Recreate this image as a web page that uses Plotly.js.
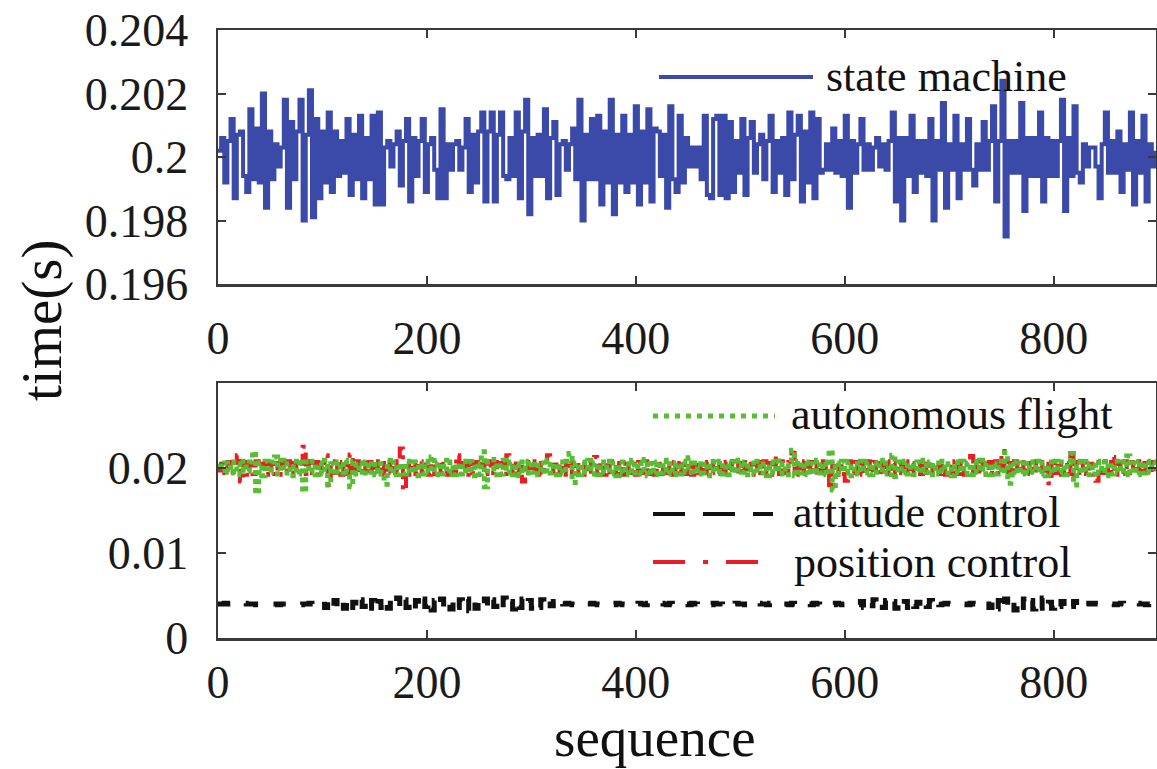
<!DOCTYPE html>
<html>
<head>
<meta charset="utf-8">
<script src="https://cdn.plot.ly/plotly-3.0.1.min.js"></script>
<style>html,body{margin:0;padding:0;background:#fff;}#chart{width:1157px;height:769px;}</style>
</head>
<body>
<div id="chart"></div>
<script>
// ---- data (one value every 3 sequence steps) ----
const SEQ_STEP = 3;
const stateMachine = [
0.2002,0.2006,0.1992,0.2005,0.2012,0.1987,0.2007,0.2008,0.1994,0.1989,
0.2015,0.1993,0.2009,0.1992,0.202,0.1984,0.2008,0.1993,0.2004,0.1997,
0.2003,0.2018,0.1984,0.2011,0.1993,0.2008,0.2018,0.198,0.2007,0.2021,
0.1981,0.2012,0.1987,0.2008,0.1992,0.2014,0.1989,0.2008,0.1994,0.2005,
0.1995,0.2012,0.1988,0.2007,0.1993,0.2013,0.1987,0.2006,0.1993,0.2013,
0.1985,0.2014,0.1985,0.2003,0.2005,0.1997,0.2004,0.2008,0.1991,0.2005,
0.2012,0.1986,0.2006,0.1994,0.2005,0.2012,0.1989,0.2004,0.2006,0.1996,
0.1987,0.2015,0.1987,0.2004,0.1996,0.2004,0.2005,0.1996,0.2003,0.2012,
0.1989,0.2007,0.1992,0.2008,0.2014,0.1986,0.2008,0.2014,0.1986,0.2007,
0.2014,0.1994,0.1993,0.2006,0.1994,0.2014,0.1987,0.2008,0.2018,0.1982,
0.2006,0.1994,0.2007,0.1994,0.2015,0.1987,0.2006,0.2011,0.1988,0.2004,
0.2005,0.1996,0.2004,0.2009,0.1993,0.2018,0.198,0.2007,0.1993,0.2012,
0.1993,0.2013,0.1985,0.2008,0.1992,0.2018,0.1982,0.2007,0.1992,0.2013,
0.1989,0.2007,0.1992,0.2016,0.1985,0.2008,0.1992,0.2015,0.1986,0.2009,
0.2008,0.1994,0.2007,0.1984,0.2016,0.1993,0.1989,0.2013,0.1992,0.2006,
0.1997,0.2003,0.1997,0.2003,0.1993,0.2013,0.1988,0.1987,0.2012,0.2013,
0.1988,0.2013,0.1987,0.2011,0.1989,0.2005,0.1995,0.2012,0.1988,0.2006,
0.2011,0.1995,0.2004,0.2007,0.1993,0.2005,0.2013,0.1989,0.2005,0.1995,
0.2006,0.1988,0.2014,0.1993,0.2007,0.2013,0.1986,0.2008,0.1992,0.2014,
0.1987,0.2012,0.1995,0.1996,0.2004,0.1996,0.2009,0.1995,0.2005,0.1994,
0.2013,0.1984,0.2005,0.1995,0.2004,0.2012,0.1996,0.2004,0.1996,0.2003,
0.2006,0.1997,0.2004,0.1996,0.2005,0.2014,0.1986,0.2006,0.198,0.2006,
0.1994,0.2013,0.1989,0.2005,0.1995,0.2005,0.1994,0.2012,0.198,0.2005,
0.1996,0.2017,0.1984,0.2004,0.1996,0.2013,0.1987,0.2004,0.1996,0.2012,
0.1996,0.1991,0.2004,0.1996,0.2011,0.1996,0.2005,0.2016,0.1986,0.2005,
0.2024,0.1975,0.2005,0.1995,0.2005,0.1995,0.2017,0.1983,0.2006,0.1994,
0.2006,0.1994,0.2014,0.1986,0.2006,0.1994,0.2005,0.1994,0.2005,0.2018,
0.1983,0.2006,0.1994,0.2016,0.1995,0.1992,0.2004,0.1997,0.2003,0.2003,
0.1997,0.1987,0.2004,0.2014,0.1995,0.2005,0.1995,0.2008,0.1989,0.2004,
0.1996,0.2014,0.1985,0.2005,0.1995,0.2013,0.1986,0.2004,0.1997,0.2002
];
const autonomousFlight = [
0.0202,0.0197,0.0206,0.0195,0.0207,0.0194,0.0205,0.0192,0.0208,0.0196,0.0207,0.0219,0.017,0.0206,0.0191,0.0208,0.0195,0.0207,0.0213,0.0193,
0.0209,0.0194,0.0205,0.0191,0.0208,0.0193,0.021,0.0172,0.0207,0.0195,0.0208,0.0192,0.0206,0.0193,0.0209,0.018,0.0205,0.0192,0.0207,0.0194,
0.0209,0.0195,0.0178,0.0208,0.0193,0.0206,0.0191,0.0207,0.0195,0.0208,0.0192,0.0205,0.0193,0.0181,0.0209,0.0194,0.0207,0.0192,0.0205,0.0193,
0.0208,0.0194,0.0207,0.0191,0.0205,0.0193,0.0208,0.0195,0.0213,0.0192,0.0206,0.0193,0.0209,0.0194,0.0207,0.0192,0.0205,0.0193,0.0208,0.0194,
0.0207,0.0191,0.0205,0.0193,0.0219,0.0178,0.0208,0.021,0.0192,0.0206,0.0193,0.0209,0.0194,0.0207,0.0192,0.0205,0.0191,0.0207,0.0194,0.0208,
0.0195,0.0207,0.0192,0.0206,0.0193,0.0209,0.0194,0.0205,0.0192,0.0207,0.0194,0.0208,0.0217,0.0183,0.0206,0.0192,0.0207,0.0195,0.0209,0.0193,
0.0206,0.0192,0.0207,0.0195,0.0208,0.0193,0.0206,0.0191,0.0207,0.0194,0.0205,0.0192,0.0209,0.0194,0.0207,0.0193,0.021,0.0191,0.0205,0.0192,
0.0207,0.0194,0.0209,0.0193,0.0205,0.0192,0.0206,0.0193,0.0208,0.0195,0.0212,0.0192,0.0206,0.0193,0.0208,0.0194,0.0205,0.0191,0.0207,0.0194,
0.0208,0.0193,0.0205,0.0192,0.0207,0.0194,0.0209,0.0195,0.0207,0.0192,0.0206,0.0193,0.0208,0.0194,0.0205,0.0191,0.0207,0.0194,0.0208,0.0193,
0.0205,0.0192,0.0207,0.0221,0.0191,0.0208,0.0194,0.0207,0.0192,0.0205,0.0193,0.0209,0.0194,0.0207,0.0192,0.0221,0.0174,0.0206,0.0193,0.0208,
0.0194,0.0207,0.0191,0.0205,0.0193,0.0208,0.0194,0.0207,0.0192,0.0206,0.0195,0.0209,0.0193,0.0206,0.0192,0.0215,0.019,0.0207,0.0194,0.0208,
0.0193,0.0205,0.0192,0.0207,0.0194,0.0209,0.0195,0.0207,0.0192,0.0206,0.0193,0.0208,0.0194,0.0205,0.0191,0.0207,0.0194,0.0208,0.0193,0.0206,
0.0192,0.0207,0.0195,0.0209,0.0193,0.0206,0.0192,0.0205,0.0193,0.0208,0.0194,0.0218,0.0182,0.0207,0.0192,0.0206,0.0193,0.0209,0.0194,0.0207,
0.0195,0.0208,0.0193,0.0206,0.0191,0.0207,0.0194,0.0208,0.0195,0.0207,0.0192,0.0206,0.0217,0.018,0.0208,0.0194,0.0207,0.0192,0.0205,0.0193,
0.0208,0.0194,0.0207,0.0191,0.0206,0.0193,0.0208,0.0195,0.0207,0.0192,0.0214,0.0193,0.0206,0.0192,0.0207,0.0194,0.0208,0.0195,0.0207,0.0197
];
const positionControl = [
0.0197,0.0205,0.0194,0.0207,0.0195,0.0206,0.0215,0.0184,0.0207,0.0192,0.0206,0.0193,0.0208,0.0194,0.0205,0.0192,0.0207,0.0193,0.0206,0.0192,
0.0207,0.0195,0.0208,0.0193,0.0206,0.0192,0.0205,0.0225,0.0193,0.0208,0.0194,0.0207,0.0192,0.0206,0.0215,0.018,0.0208,0.0194,0.0207,0.0192,
0.0205,0.0193,0.0216,0.0194,0.0208,0.0193,0.0206,0.0192,0.0207,0.0195,0.0208,0.0193,0.0206,0.0192,0.0207,0.0194,0.0208,0.0195,0.0223,0.0174,
0.0207,0.0192,0.0206,0.0193,0.0208,0.0195,0.0207,0.0192,0.0206,0.0193,0.0208,0.0194,0.0205,0.0192,0.0207,0.0194,0.0215,0.0193,0.0206,0.0192,
0.0208,0.0194,0.0207,0.0192,0.0205,0.0193,0.0208,0.0194,0.0207,0.0192,0.0206,0.0193,0.0215,0.0194,0.0208,0.0193,0.0205,0.0184,0.0207,0.0194,
0.0208,0.0193,0.0206,0.0192,0.0207,0.0215,0.0194,0.0208,0.0193,0.0205,0.0192,0.0207,0.0194,0.0208,0.0193,0.0206,0.0192,0.0205,0.0193,0.0208,
0.0213,0.0193,0.0206,0.0192,0.0207,0.0195,0.0208,0.0193,0.0206,0.0192,0.0207,0.0194,0.0205,0.0192,0.0207,0.0194,0.0208,0.0193,0.0206,0.0192,
0.0205,0.0193,0.0208,0.0194,0.0207,0.0192,0.0206,0.0195,0.0208,0.0193,0.0206,0.0192,0.0207,0.0194,0.0205,0.0192,0.0207,0.0194,0.0208,0.0193,
0.0206,0.0192,0.0207,0.0195,0.0208,0.0193,0.0206,0.0192,0.0207,0.0194,0.0205,0.0192,0.0207,0.0194,0.0208,0.0193,0.0206,0.0192,0.0214,0.0193,
0.0208,0.0194,0.0207,0.0218,0.0192,0.0206,0.0193,0.0208,0.0195,0.0207,0.0192,0.0206,0.0193,0.0208,0.0194,0.0176,0.0207,0.0192,0.0206,0.0193,
0.0185,0.0208,0.0194,0.0207,0.0192,0.0205,0.0193,0.0208,0.0194,0.0207,0.0192,0.0206,0.0195,0.0208,0.0193,0.0206,0.0192,0.0207,0.0194,0.0208,
0.0193,0.0206,0.0192,0.0205,0.0193,0.0208,0.0194,0.0207,0.0192,0.0206,0.0193,0.0205,0.0192,0.0207,0.0194,0.0208,0.0193,0.0206,0.0192,0.0207,
0.0214,0.0194,0.0208,0.0193,0.0205,0.0192,0.0207,0.0194,0.0208,0.0193,0.022,0.0192,0.0206,0.0193,0.0208,0.0195,0.0207,0.0192,0.0206,0.0193,
0.0208,0.0194,0.0207,0.0192,0.0205,0.0182,0.0208,0.0194,0.0207,0.0192,0.0206,0.0193,0.0219,0.0192,0.0207,0.0194,0.0208,0.0193,0.0205,0.0192,
0.0185,0.0207,0.0194,0.0208,0.0193,0.0213,0.0192,0.0206,0.0193,0.0208,0.0194,0.0207,0.0195,0.0208,0.0193,0.0206,0.0192,0.0207,0.0194,0.0205
];
const attitudeControl = [
0.004,0.004,0.0041,0.004,0.004,0.0039,0.004,0.004,0.0041,0.004,0.004,0.004,0.0039,0.004,0.004,0.0041,0.004,0.004,0.004,0.0039,
0.004,0.004,0.0041,0.004,0.004,0.004,0.0039,0.004,0.004,0.0041,0.004,0.004,0.004,
0.0045,0.0036,0.0046,0.0037,0.0044,0.0034,0.0043,0.0035,0.0047,0.0036,
0.0042,0.0034,0.0045,0.0037,0.0046,0.0035,0.0044,0.0033,0.0043,0.0036,
0.0046,0.0035,0.0044,0.0037,0.0047,0.0034,0.0045,0.0036,0.0043,0.0034,
0.0044,0.0035,0.0046,0.0037,0.0045,0.0033,0.0044,0.0036,0.0046,0.0035,
0.0043,0.0034,0.0047,0.0036,0.0045,0.0037,0.0046,0.0032,0.0044,0.0035,
0.0043,0.0036,0.0046,0.0034,0.0045,0.0037,0.0044,0.0035,0.0047,0.0036,
0.0043,0.0034,0.0045,0.0036,0.0046,0.0037,0.0044,0.0035,0.0043,0.0036,
0.0045,0.0037,0.0044,0.0038,0.0043,0.0037,0.0042,
0.004,0.0041,0.004,0.0039,0.004,0.004,0.0041,0.0039,0.004,0.0041,0.004,0.0039,0.004,0.0041,0.004,0.004,0.0039,0.0041,0.004,0.0039,
0.0041,0.004,0.0039,0.004,0.0041,0.004,0.0039,0.0041,0.004,0.004,0.0039,0.0041,0.004,0.0039,0.0041,0.004,0.004,0.0039,0.0041,0.004,
0.0039,0.0041,0.004,0.0039,0.004,0.0041,0.004,0.0039,0.0041,0.004,0.004,0.0039,0.0041,0.004,0.0039,0.0041,0.004,0.004,0.0039,0.0041,
0.004,0.0039,0.0041,0.004,0.004,0.0039,0.0041,0.004,0.0039,0.0041,0.004,0.004,0.0039,0.0041,0.004,0.0039,0.0041,0.004,0.004,0.0039,
0.0041,0.004,0.0039,0.0041,0.004,0.004,0.0039,0.0041,0.004,0.0039,0.004,0.004,0.0041,0.004,0.0039,
0.0043,0.0036,0.0044,0.0038,0.0045,0.0037,0.0042,0.0036,0.0044,0.0037,0.0043,0.0035,0.0044,
0.0038,0.0043,0.0036,0.0045,0.0037,0.0042,0.0036,0.0043,0.0037,0.0044,0.0038,0.0043,0.0039,
0.004,0.0041,0.004,0.0039,0.004,0.0041,0.004,0.004,0.0039,0.0041,0.004,0.0039,0.004,0.0041,
0.0043,0.0036,0.0045,0.0034,0.0044,0.0032,0.0046,0.0035,0.0043,0.0033,0.0045,0.0036,0.0046,0.0037,0.0044,0.0034,0.0043,
0.0035,0.0047,0.0036,0.0042,0.0035,0.0044,0.0037,0.0043,0.0036,0.0042,0.0037,0.0043,0.0038,0.0041,0.0038,0.0041,
0.004,0.0041,0.004,0.0039,0.004,0.004,0.0041,0.004,0.0039,0.004,0.0041,0.004,0.004,0.0039,0.004,0.0041,0.004,0.004,0.0039,0.004,0.0041,0.004
];
const xTicks = [0, 200, 400, 600, 800];
const yTicksTop = [0.196, 0.198, 0.2, 0.202, 0.204];
const yTicksBottom = [0, 0.01, 0.02];
const seriesNames = ['state machine', 'autonomous flight', 'attitude control', 'position control'];

const seq = arr => arr.map((_, i) => i * SEQ_STEP);

// ---- style ----
const FONT = 'Liberation Serif, Times New Roman, serif';
const C_BLUE = '#3b4aa8', C_GREEN = '#57bd33', C_RED = '#ec1c24', C_BLACK = '#111111';
const W = 938, H = 608, L = 218, T = 30;
const px = x => (x - L) / W;          // pixel -> paper (x)
const py = y => (T + H - y) / H;       // pixel -> paper (y)

const traces = [
  {x: seq(stateMachine), y: stateMachine, name: seriesNames[0], type: 'scatter', mode: 'lines',
   xaxis: 'x', yaxis: 'y', line: {color: C_BLUE, width: 4, shape: 'hv'}},
  {x: seq(positionControl), y: positionControl, name: seriesNames[3], type: 'scatter', mode: 'lines',
   xaxis: 'x2', yaxis: 'y2', line: {color: C_RED, width: 4, shape: 'hv', dash: '14px,6px,4px,6px'}},
  {x: seq(autonomousFlight), y: autonomousFlight, name: seriesNames[1], type: 'scatter', mode: 'lines',
   xaxis: 'x2', yaxis: 'y2', line: {color: C_GREEN, width: 5, shape: 'hv', dash: '5px,4px'}},
  {x: seq(attitudeControl), y: attitudeControl, name: seriesNames[2], type: 'scatter', mode: 'lines',
   xaxis: 'x2', yaxis: 'y2', line: {color: C_BLACK, width: 5, shape: 'hv', dash: '14px,18px'}}
];

const axBase = {
  showline: true, linecolor: '#3a3a3a', linewidth: 2.5, mirror: 'ticks',
  ticks: 'inside', ticklen: 8, tickwidth: 2, tickcolor: '#3a3a3a',
  showgrid: false, zeroline: false, automargin: false,
  tickfont: {family: FONT, size: 46, color: '#1a1a1a'}
};

const legendKey = (x0, x1, y, color, width, dash) => ({
  type: 'line', xref: 'paper', yref: 'paper', x0: px(x0), x1: px(x1), y0: py(y), y1: py(y),
  line: {color: color, width: width, dash: dash}
});
const legendText = (text, x, y) => ({
  text: text, xref: 'paper', yref: 'paper', x: px(x), y: py(y), xanchor: 'left', yanchor: 'middle',
  showarrow: false, borderpad: 0, font: {family: FONT, size: 44, color: '#111'}
});

const layout = {
  width: 1157, height: 769,
  margin: {l: L, r: 1157 - L - W, t: T, b: 769 - T - H},
  paper_bgcolor: '#fff', plot_bgcolor: '#fff',
  showlegend: false,
  xaxis: Object.assign({}, axBase, {domain: [0, 1], anchor: 'y', range: [0, 898], tickvals: xTicks, ticklabelstandoff: 12}),
  yaxis: Object.assign({}, axBase, {domain: [py(284), 1], anchor: 'x', range: [0.196, 0.204], tickvals: yTicksTop, ticklabelstandoff: 18}),
  xaxis2: Object.assign({}, axBase, {domain: [0, 1], anchor: 'y2', range: [0, 898], tickvals: xTicks, ticklabelstandoff: 2}),
  yaxis2: Object.assign({}, axBase, {domain: [0, py(383)], anchor: 'x2', range: [0, 0.03], tickvals: yTicksBottom, ticklabelstandoff: 18}),
  shapes: [
    legendKey(659, 813, 77, C_BLUE, 4, 'solid'),
    legendKey(653, 775, 416, C_GREEN, 5, '5px,6px'),
    legendKey(653, 773, 514, C_BLACK, 4, '32px,18px'),
    legendKey(653, 760, 562, C_RED, 4, '32px,18px,5px,18px')
  ],
  annotations: [
    legendText(seriesNames[0], 825, 76),
    legendText(seriesNames[1], 790, 414),
    legendText(seriesNames[2], 792, 512),
    legendText(seriesNames[3], 793, 562),
    {text: 'time(s)', xref: 'paper', yref: 'paper', x: px(42), y: py(321), xanchor: 'center', yanchor: 'middle',
     textangle: -90, showarrow: false, borderpad: 0, font: {family: FONT, size: 57, color: '#111'}},
    {text: 'sequence', xref: 'paper', yref: 'paper', x: px(655), y: py(737), xanchor: 'center', yanchor: 'middle',
     showarrow: false, borderpad: 0, font: {family: FONT, size: 55, color: '#111'}}
  ]
};

Plotly.newPlot('chart', traces, layout, {staticPlot: true, displayModeBar: false});
</script>
</body>
</html>
